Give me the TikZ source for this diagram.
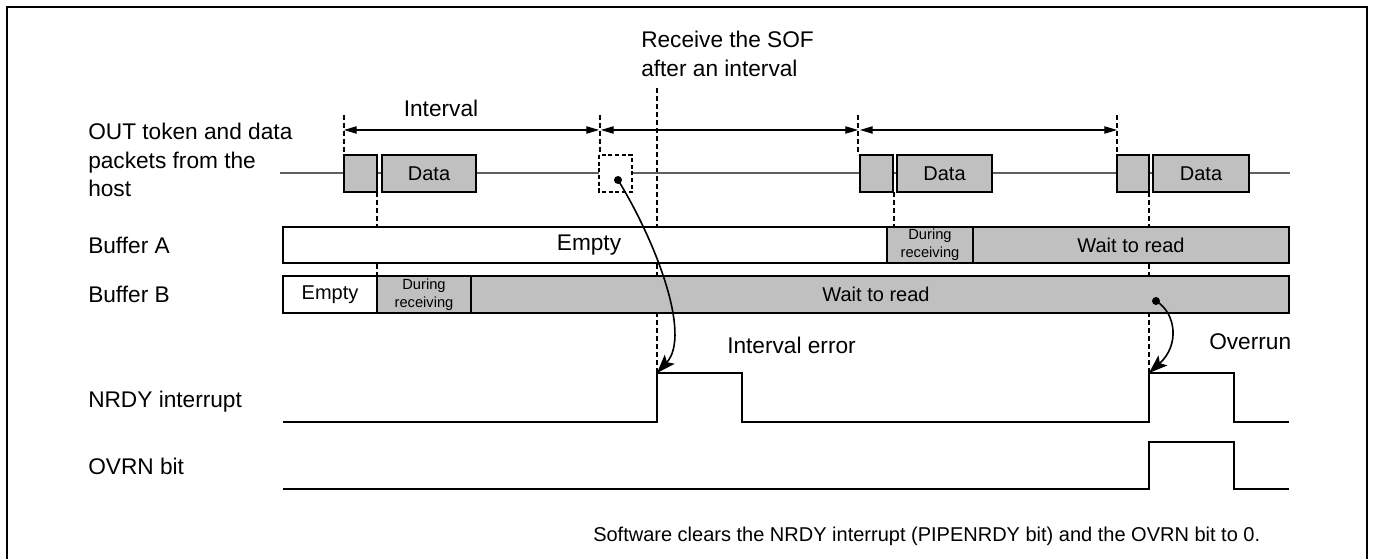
\documentclass[tikz,border=0pt]{standalone}
\usepackage{fontspec}
\setmainfont{Liberation Sans}
\usetikzlibrary{arrows.meta}
\definecolor{boxgray}{HTML}{C0C0C0}
\definecolor{hostline}{HTML}{606060}
\begin{document}
\begin{tikzpicture}[x=0.75pt,y=-0.75pt,
  frame/.style={draw=black,line width=1.8pt},
  gbox/.style={draw=black,fill=boxgray,line width=1.4pt},
  wbox/.style={draw=black,fill=white,line width=1.4pt},
  dbox/.style={draw=black,fill=white,line width=1.1pt,dash pattern=on 3pt off 2pt},
  vdash/.style={draw=black,line width=0.9pt,dash pattern=on 3.5pt off 2.5pt},
  sig/.style={draw=black,line width=1.4pt},
  hline/.style={draw=hostline,line width=0.8pt},
  ivl/.style={draw=black,line width=0.8pt,{Triangle[length=9.5pt,width=5.5pt]}-{Triangle[length=9.5pt,width=5.5pt]}},
  curv/.style={draw=black,line width=1.2pt,-{Stealth[length=14pt,width=10pt,inset=3pt]}},
  lbl/.style={inner sep=0pt,font=\fontsize{17}{21.4}\selectfont},
  mid/.style={inner sep=0pt,font=\fontsize{15}{18}\selectfont},
  small/.style={inner sep=0pt,align=center,font=\fontsize{11}{13.3}\selectfont},
  note/.style={inner sep=0pt,font=\fontsize{15}{18}\selectfont}]
\useasboundingbox (0,0) rectangle (1374,559);
\fill[white] (0,0) rectangle (1374,559);
% frame
\draw[frame] (7,560) -- (7,7) -- (1367,7) -- (1367,560);

% coordinates
\coordinate (m1t) at (344,115); \coordinate (m1b) at (344,155);
\coordinate (m2t) at (600,115); \coordinate (m2b) at (600,155);
\coordinate (m3t) at (858,115); \coordinate (m3b) at (858,155);
\coordinate (m4t) at (1117,115); \coordinate (m4b) at (1117,155);
\coordinate (a1l) at (344,130); \coordinate (a1r) at (599,130);
\coordinate (a2l) at (601,130); \coordinate (a2r) at (858,130);
\coordinate (a3l) at (860,130); \coordinate (a3r) at (1117,130);
\coordinate (sofT) at (657,88); \coordinate (p1) at (657,373);
\coordinate (r1t) at (377,192); \coordinate (r1b) at (377,276);
\coordinate (r2t) at (894,192); \coordinate (r2b) at (894,227);
\coordinate (r3t) at (1149,192); \coordinate (p2) at (1149,373);
\coordinate (hostL) at (280,173); \coordinate (hostR) at (1290,173);

% dashed markers
\draw[vdash] (m1t) -- (m1b);
\draw[vdash] (m2t) -- (m2b);
\draw[vdash] (m3t) -- (m3b);
\draw[vdash] (m4t) -- (m4b);
\draw[vdash] (sofT) -- (p1);
\draw[vdash] (r1t) -- (r1b);
\draw[vdash] (r2t) -- (r2b);
\draw[vdash] (r3t) -- (p2);

% interval arrows
\draw[ivl] (a1l) -- (a1r);
\draw[ivl] (a2l) -- (a2r);
\draw[ivl] (a3l) -- (a3r);
\node[lbl] (interval) at (441,108) {Interval};
\node[lbl,anchor=west,align=left] (sof) at (641,54) {Receive the SOF\\after an interval};

% host line and packets
\draw[hline] (hostL) -- (hostR);
\draw[gbox] (344,155) rectangle (377,192);
\draw[gbox] (382,155) rectangle (476,192);
\node[mid] (data1) at (429,173.5) {Data};
\draw[dbox] (599,155) rectangle (632,192);
\draw[gbox] (860,155) rectangle (893,192);
\draw[gbox] (897,155) rectangle (992,192);
\node[mid] (data2) at (944.5,173.5) {Data};
\draw[gbox] (1117,155) rectangle (1149,192);
\draw[gbox] (1153,155) rectangle (1249,192);
\node[mid] (data3) at (1201,173.5) {Data};
\fill (618,180) circle (3pt) coordinate (d1);

% buffers
\draw[wbox] (283,227) rectangle (887,263);
\node[lbl] (emptyA) at (589,245) {Empty};
\draw[gbox] (887,227) rectangle (973,263);
\node[small] (recvA) at (930,245) {During\\receiving};
\draw[gbox] (973,227) rectangle (1289,263);
\node[mid] (waitA) at (1131,245) {Wait to read};

\draw[wbox] (283,276) rectangle (377,313);
\node[mid] (emptyB) at (330,294.5) {Empty};
\draw[gbox] (377,276) rectangle (471,313);
\node[small] (recvB) at (424,294.5) {During\\receiving};
\draw[gbox] (471,276) rectangle (1289,313);
\node[mid] (waitB) at (876,294.5) {Wait to read};
\fill (1156,301) circle (3pt) coordinate (d2);

% signals
\draw[sig] (283,422) -- (657,422) -- (p1) -- (742,373) -- (742,422) -- (1149,422) -- (p2) -- (1234,373) -- (1234,422) -- (1289,422);
\draw[sig] (283,489) -- (1149,489) -- (1149,442) -- (1234,442) -- (1234,489) -- (1289,489);

% curved arrows
\draw[curv] (d1) .. controls (655,240) and (692,335) .. (p1);
\draw[curv] (d2) .. controls (1176,313) and (1180,345) .. (p2);

% labels
\node[lbl,anchor=west,align=left] (outlbl) at (88,160) {OUT token and data\\packets from the\\host};
\node[lbl,anchor=west] (bufA) at (88,245) {Buffer A};
\node[lbl,anchor=west] (bufB) at (88,294) {Buffer B};
\node[lbl,anchor=west] (nrdy) at (88,402) {NRDY interrupt};
\node[lbl,anchor=west] (ovrn) at (88,466) {OVRN bit};
\node[lbl,anchor=west] (interr) at (727,345) {Interval error};
\node[lbl,anchor=west] (overrun) at (1209,342) {Overrun};
\node[note,anchor=west] (swnote) at (593,536) {Software clears the NRDY interrupt (PIPENRDY bit) and the OVRN bit to 0.};
\end{tikzpicture}
\end{document}
